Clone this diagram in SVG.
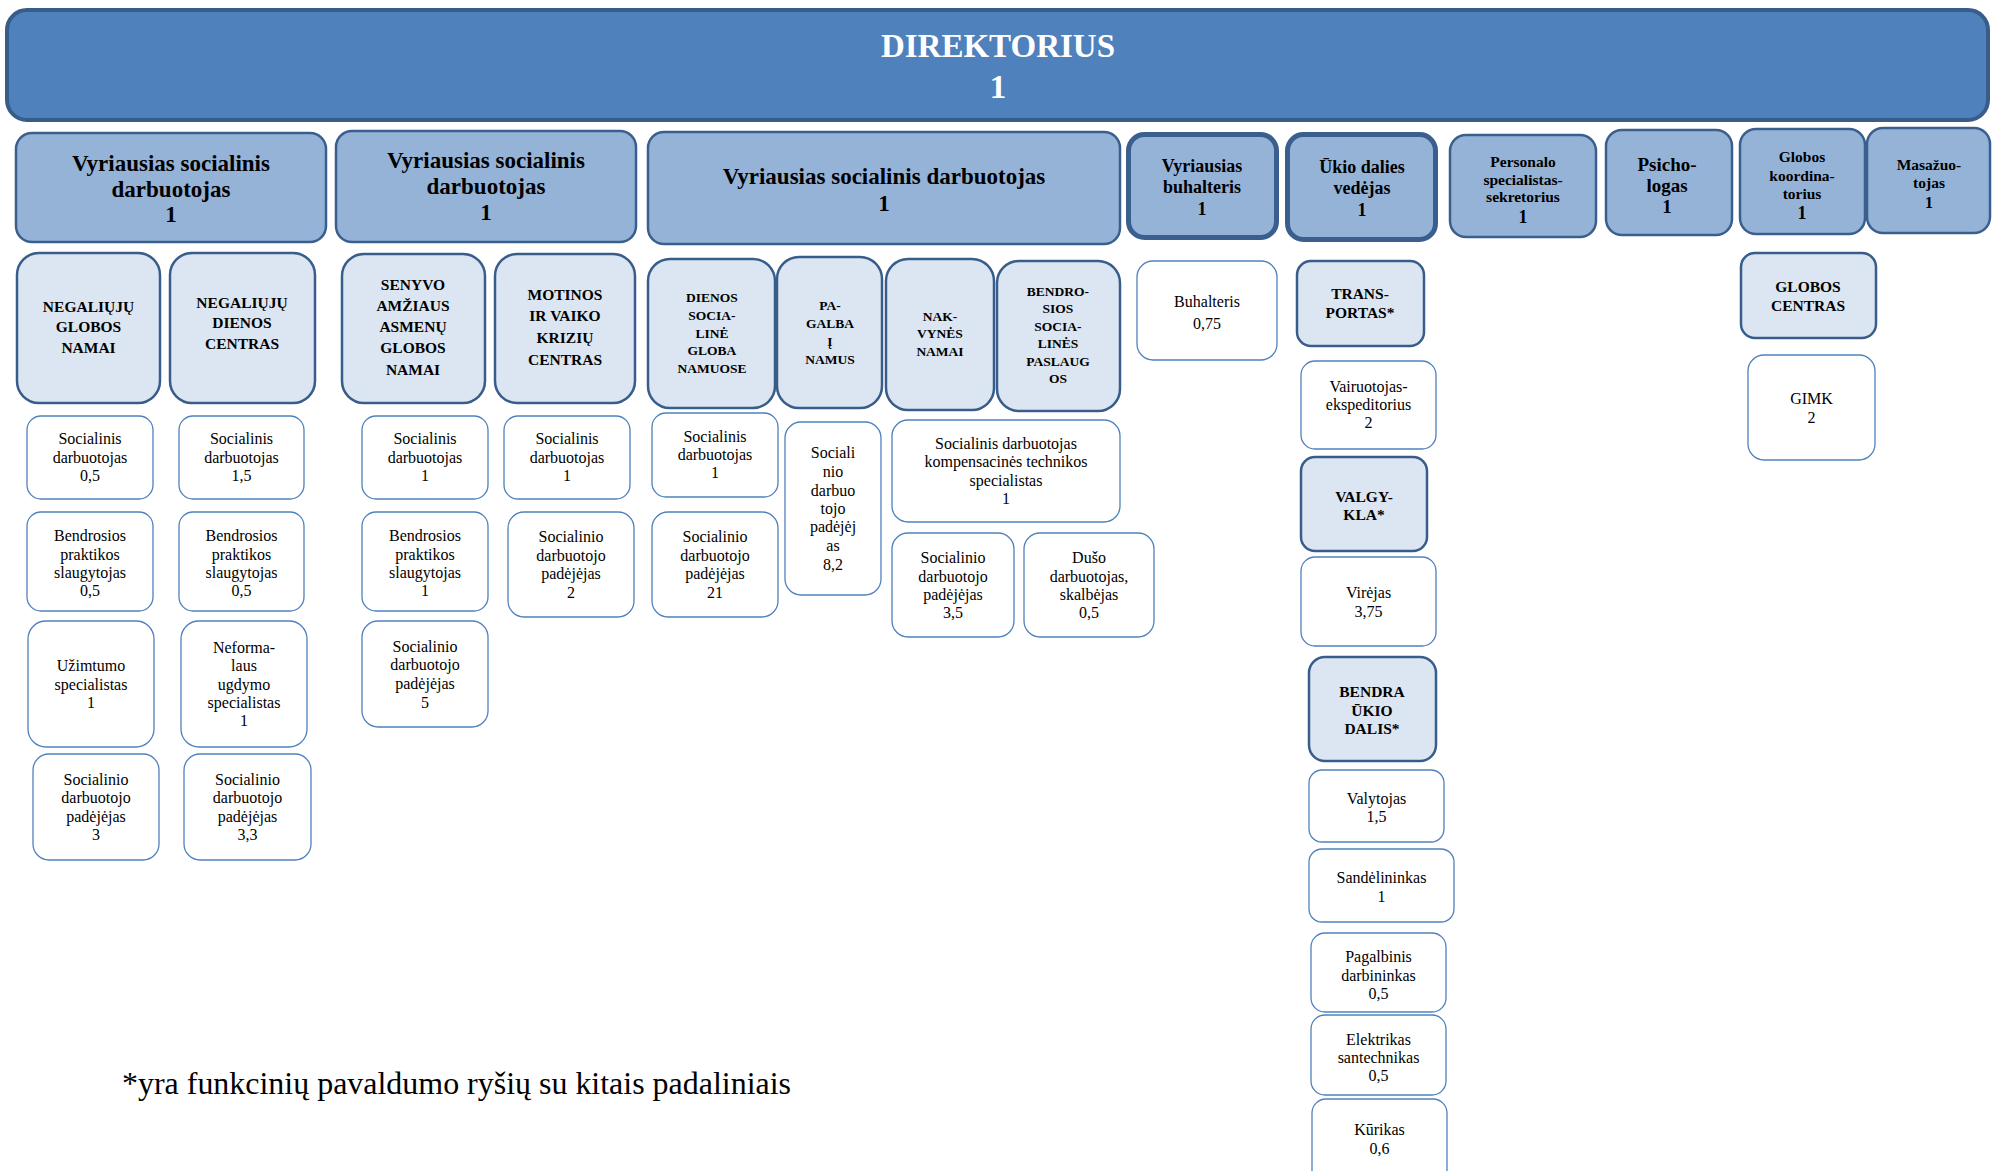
<svg xmlns="http://www.w3.org/2000/svg" width="1994" height="1171" viewBox="0 0 1994 1171">
<style>
text{font-family:"Liberation Serif","Times New Roman",serif;text-anchor:middle;fill:#000}
.dir rect{fill:#4f81bd;stroke:#385d8a;stroke-width:4}
.dir text{fill:#fff;font-weight:bold;font-size:33px}
.l2 rect{fill:#95b3d7;stroke:#3a5f8e;stroke-width:2.5}
.l2.thick rect{stroke-width:5}
.l2 text{font-weight:bold}
.l3 rect{fill:#dce6f2;stroke:#385d8a;stroke-width:2.5}
.l3 text{font-weight:bold;font-size:15.5px}
.l3.s text{font-size:13.5px}
.w rect{fill:#fff;stroke:#4f81bd;stroke-width:1.3}
.w text{font-size:16px}
.note{text-anchor:start;font-size:31.5px}
</style>
<rect width="1994" height="1171" fill="#fff"/>
<g id="connectors"/>

<g id="direktorius" class="dir">
<rect x="7" y="10" width="1981" height="110" rx="20"/>
<text x="998" y="57">DIREKTORIUS</text>
<text x="998" y="98">1</text>
</g>

<g id="vsd1" class="l2">
<rect x="16" y="133" width="310" height="109" rx="16"/>
<text x="171" y="171" font-size="23">Vyriausias socialinis</text>
<text x="171" y="197" font-size="23">darbuotojas</text>
<text x="171" y="222" font-size="23">1</text>
</g>
<g id="vsd2" class="l2">
<rect x="336" y="131" width="300" height="111" rx="16"/>
<text x="486" y="168" font-size="23">Vyriausias socialinis</text>
<text x="486" y="194" font-size="23">darbuotojas</text>
<text x="486" y="220" font-size="23">1</text>
</g>
<g id="vsd3" class="l2">
<rect x="648" y="132" width="472" height="112" rx="16"/>
<text x="884" y="184" font-size="23">Vyriausias socialinis darbuotojas</text>
<text x="884" y="211" font-size="23">1</text>
</g>
<g id="vbuh" class="l2 thick">
<rect x="1128.5" y="134.5" width="148" height="103" rx="16"/>
<text x="1202" y="172" font-size="18">Vyriausias</text>
<text x="1202" y="193" font-size="18">buhalteris</text>
<text x="1202" y="215" font-size="18">1</text>
</g>
<g id="ukio" class="l2 thick">
<rect x="1287.5" y="134.5" width="148" height="105" rx="16"/>
<text x="1362" y="173" font-size="18">Ūkio dalies</text>
<text x="1362" y="194" font-size="18">vedėjas</text>
<text x="1362" y="216" font-size="18">1</text>
</g>
<g id="personalo" class="l2">
<rect x="1450" y="135" width="146" height="102" rx="16"/>
<text x="1523" y="167" font-size="15.5">Personalo</text>
<text x="1523" y="185" font-size="15.5">specialistas-</text>
<text x="1523" y="202" font-size="15.5">sekretorius</text>
<text x="1523" y="223" font-size="18">1</text>
</g>
<g id="psichologas" class="l2">
<rect x="1606" y="130" width="126" height="105" rx="16"/>
<text x="1667" y="171" font-size="19">Psicho-</text>
<text x="1667" y="192" font-size="19">logas</text>
<text x="1667" y="213" font-size="19">1</text>
</g>
<g id="globos-koord" class="l2">
<rect x="1740" y="129" width="125" height="105" rx="16"/>
<text x="1802" y="162" font-size="15.5">Globos</text>
<text x="1802" y="181" font-size="15.5">koordina-</text>
<text x="1802" y="199" font-size="15.5">torius</text>
<text x="1802" y="219" font-size="18">1</text>
</g>
<g id="masazuotojas" class="l2">
<rect x="1867" y="128" width="123" height="105" rx="16"/>
<text x="1929" y="170" font-size="15.5">Masažuo-</text>
<text x="1929" y="188" font-size="15.5">tojas</text>
<text x="1929" y="208" font-size="16">1</text>
</g>

<g id="neg-globos" class="l3">
<rect x="17" y="253" width="143" height="150" rx="22"/>
<text x="88.5" y="312">NEGALIŲJŲ</text>
<text x="88.5" y="332">GLOBOS</text>
<text x="88.5" y="353">NAMAI</text>
</g>
<g id="neg-dienos" class="l3">
<rect x="170" y="253" width="145" height="150" rx="22"/>
<text x="242" y="308">NEGALIŲJŲ</text>
<text x="242" y="328">DIENOS</text>
<text x="242" y="349">CENTRAS</text>
</g>
<g id="senyvo" class="l3">
<rect x="342" y="254" width="143" height="149" rx="22"/>
<text x="413" y="290">SENYVO</text>
<text x="413" y="311">AMŽIAUS</text>
<text x="413" y="332">ASMENŲ</text>
<text x="413" y="353">GLOBOS</text>
<text x="413" y="375">NAMAI</text>
</g>
<g id="motinos" class="l3">
<rect x="495" y="254" width="140" height="149" rx="22"/>
<text x="565" y="300">MOTINOS</text>
<text x="565" y="321">IR VAIKO</text>
<text x="565" y="343">KRIZIŲ</text>
<text x="565" y="365">CENTRAS</text>
</g>
<g id="dienos-globa" class="l3 s">
<rect x="648" y="259" width="127" height="149" rx="22"/>
<text x="712" y="302">DIENOS</text>
<text x="712" y="320">SOCIA-</text>
<text x="712" y="338">LINĖ</text>
<text x="712" y="355">GLOBA</text>
<text x="712" y="373">NAMUOSE</text>
</g>
<g id="pagalba" class="l3 s">
<rect x="777" y="257" width="105" height="151" rx="22"/>
<text x="830" y="310">PA-</text>
<text x="830" y="328">GALBA</text>
<text x="830" y="346">Į</text>
<text x="830" y="364">NAMUS</text>
</g>
<g id="nakvynes" class="l3 s">
<rect x="886" y="259" width="108" height="151" rx="22"/>
<text x="940" y="321">NAK-</text>
<text x="940" y="338">VYNĖS</text>
<text x="940" y="356">NAMAI</text>
</g>
<g id="bendrosios" class="l3 s">
<rect x="997" y="261" width="123" height="150" rx="22"/>
<text x="1058" y="296">BENDRO-</text>
<text x="1058" y="313">SIOS</text>
<text x="1058" y="331">SOCIA-</text>
<text x="1058" y="348">LINĖS</text>
<text x="1058" y="366">PASLAUG</text>
<text x="1058" y="383">OS</text>
</g>
<g id="transportas" class="l3">
<rect x="1297" y="261" width="127" height="85" rx="14"/>
<text x="1360" y="299">TRANS-</text>
<text x="1360" y="318">PORTAS*</text>
</g>
<g id="valgykla" class="l3">
<rect x="1301" y="457" width="126" height="94" rx="14"/>
<text x="1364" y="502">VALGY-</text>
<text x="1364" y="520">KLA*</text>
</g>
<g id="bendra-ukio" class="l3">
<rect x="1309" y="657" width="127" height="104" rx="16"/>
<text x="1372" y="697">BENDRA</text>
<text x="1372" y="716">ŪKIO</text>
<text x="1372" y="734">DALIS*</text>
</g>
<g id="globos-centras" class="l3">
<rect x="1741" y="253" width="135" height="85" rx="14"/>
<text x="1808" y="292">GLOBOS</text>
<text x="1808" y="311">CENTRAS</text>
</g>

<g id="w-ngn-sd" class="w">
<rect x="27" y="416" width="126" height="83" rx="14"/>
<text x="90" y="444">Socialinis</text>
<text x="90" y="463">darbuotojas</text>
<text x="90" y="481">0,5</text>
</g>
<g id="w-ndc-sd" class="w">
<rect x="179" y="416" width="125" height="83" rx="14"/>
<text x="241.5" y="444">Socialinis</text>
<text x="241.5" y="463">darbuotojas</text>
<text x="241.5" y="481">1,5</text>
</g>
<g id="w-ngn-bps" class="w">
<rect x="27" y="512" width="126" height="99" rx="14"/>
<text x="90" y="541">Bendrosios</text>
<text x="90" y="560">praktikos</text>
<text x="90" y="578">slaugytojas</text>
<text x="90" y="596">0,5</text>
</g>
<g id="w-ndc-bps" class="w">
<rect x="179" y="512" width="125" height="99" rx="14"/>
<text x="241.5" y="541">Bendrosios</text>
<text x="241.5" y="560">praktikos</text>
<text x="241.5" y="578">slaugytojas</text>
<text x="241.5" y="596">0,5</text>
</g>
<g id="w-ngn-uz" class="w">
<rect x="28" y="621" width="126" height="126" rx="18"/>
<text x="91" y="671">Užimtumo</text>
<text x="91" y="690">specialistas</text>
<text x="91" y="708">1</text>
</g>
<g id="w-ndc-nf" class="w">
<rect x="181" y="621" width="126" height="126" rx="18"/>
<text x="244" y="653">Neforma-</text>
<text x="244" y="671">laus</text>
<text x="244" y="690">ugdymo</text>
<text x="244" y="708">specialistas</text>
<text x="244" y="726">1</text>
</g>
<g id="w-ngn-sdp" class="w">
<rect x="33" y="754" width="126" height="106" rx="16"/>
<text x="96" y="785">Socialinio</text>
<text x="96" y="803">darbuotojo</text>
<text x="96" y="822">padėjėjas</text>
<text x="96" y="840">3</text>
</g>
<g id="w-ndc-sdp" class="w">
<rect x="184" y="754" width="127" height="106" rx="16"/>
<text x="247.5" y="785">Socialinio</text>
<text x="247.5" y="803">darbuotojo</text>
<text x="247.5" y="822">padėjėjas</text>
<text x="247.5" y="840">3,3</text>
</g>
<g id="w-sen-sd" class="w">
<rect x="362" y="416" width="126" height="83" rx="14"/>
<text x="425" y="444">Socialinis</text>
<text x="425" y="463">darbuotojas</text>
<text x="425" y="481">1</text>
</g>
<g id="w-sen-bps" class="w">
<rect x="362" y="512" width="126" height="99" rx="14"/>
<text x="425" y="541">Bendrosios</text>
<text x="425" y="560">praktikos</text>
<text x="425" y="578">slaugytojas</text>
<text x="425" y="596">1</text>
</g>
<g id="w-sen-sdp" class="w">
<rect x="362" y="621" width="126" height="106" rx="16"/>
<text x="425" y="652">Socialinio</text>
<text x="425" y="670">darbuotojo</text>
<text x="425" y="689">padėjėjas</text>
<text x="425" y="708">5</text>
</g>
<g id="w-mot-sd" class="w">
<rect x="504" y="416" width="126" height="83" rx="14"/>
<text x="567" y="444">Socialinis</text>
<text x="567" y="463">darbuotojas</text>
<text x="567" y="481">1</text>
</g>
<g id="w-mot-sdp" class="w">
<rect x="508" y="512" width="126" height="105" rx="16"/>
<text x="571" y="542">Socialinio</text>
<text x="571" y="561">darbuotojo</text>
<text x="571" y="579">padėjėjas</text>
<text x="571" y="598">2</text>
</g>
<g id="w-dsg-sd" class="w">
<rect x="652" y="413" width="126" height="84" rx="14"/>
<text x="715" y="442">Socialinis</text>
<text x="715" y="460">darbuotojas</text>
<text x="715" y="478">1</text>
</g>
<g id="w-dsg-sdp" class="w">
<rect x="652" y="512" width="126" height="105" rx="16"/>
<text x="715" y="542">Socialinio</text>
<text x="715" y="561">darbuotojo</text>
<text x="715" y="579">padėjėjas</text>
<text x="715" y="598">21</text>
</g>
<g id="w-pag-sdp" class="w">
<rect x="785" y="422" width="96" height="173" rx="16"/>
<text x="833" y="458">Sociali</text>
<text x="833" y="477">nio</text>
<text x="833" y="496">darbuo</text>
<text x="833" y="514">tojo</text>
<text x="833" y="532">padėjėj</text>
<text x="833" y="551">as</text>
<text x="833" y="570">8,2</text>
</g>
<g id="w-kts" class="w">
<rect x="892" y="420" width="228" height="102" rx="16"/>
<text x="1006" y="449">Socialinis darbuotojas</text>
<text x="1006" y="467">kompensacinės technikos</text>
<text x="1006" y="486">specialistas</text>
<text x="1006" y="504">1</text>
</g>
<g id="w-nak-sdp" class="w">
<rect x="892" y="533" width="122" height="104" rx="16"/>
<text x="953" y="563">Socialinio</text>
<text x="953" y="582">darbuotojo</text>
<text x="953" y="600">padėjėjas</text>
<text x="953" y="618">3,5</text>
</g>
<g id="w-duso" class="w">
<rect x="1024" y="533" width="130" height="104" rx="16"/>
<text x="1089" y="563">Dušo</text>
<text x="1089" y="582">darbuotojas,</text>
<text x="1089" y="600">skalbėjas</text>
<text x="1089" y="618">0,5</text>
</g>
<g id="w-buhalteris" class="w">
<rect x="1137" y="261" width="140" height="99" rx="16"/>
<text x="1207" y="307" font-size="19.5">Buhalteris</text>
<text x="1207" y="329" font-size="19.5">0,75</text>
</g>
<g id="w-vairuotojas" class="w">
<rect x="1301" y="361" width="135" height="88" rx="14"/>
<text x="1368.5" y="392">Vairuotojas-</text>
<text x="1368.5" y="410">ekspeditorius</text>
<text x="1368.5" y="428">2</text>
</g>
<g id="w-virejas" class="w">
<rect x="1301" y="557" width="135" height="89" rx="14"/>
<text x="1368.5" y="598">Virėjas</text>
<text x="1368.5" y="617">3,75</text>
</g>
<g id="w-gimk" class="w">
<rect x="1748" y="355" width="127" height="105" rx="16"/>
<text x="1811.5" y="404">GIMK</text>
<text x="1811.5" y="423">2</text>
</g>
<g id="w-valytojas" class="w">
<rect x="1309" y="770" width="135" height="72" rx="13"/>
<text x="1376.5" y="804">Valytojas</text>
<text x="1376.5" y="822">1,5</text>
</g>
<g id="w-sandelininkas" class="w">
<rect x="1309" y="849" width="145" height="73" rx="13"/>
<text x="1381.5" y="883">Sandėlininkas</text>
<text x="1381.5" y="902">1</text>
</g>
<g id="w-pagalbinis" class="w">
<rect x="1311" y="933" width="135" height="79" rx="14"/>
<text x="1378.5" y="962">Pagalbinis</text>
<text x="1378.5" y="981">darbininkas</text>
<text x="1378.5" y="999">0,5</text>
</g>
<g id="w-elektrikas" class="w">
<rect x="1311" y="1015" width="135" height="80" rx="14"/>
<text x="1378.5" y="1045">Elektrikas</text>
<text x="1378.5" y="1063">santechnikas</text>
<text x="1378.5" y="1081">0,5</text>
</g>
<g id="w-kurikas" class="w">
<rect x="1312" y="1099" width="135" height="90" rx="14"/>
<text x="1379.5" y="1135">Kūrikas</text>
<text x="1379.5" y="1154">0,6</text>
</g>

<text class="note" x="122" y="1094" textLength="669" lengthAdjust="spacingAndGlyphs">*yra funkcinių pavaldumo ryšių su kitais padaliniais</text>
</svg>
